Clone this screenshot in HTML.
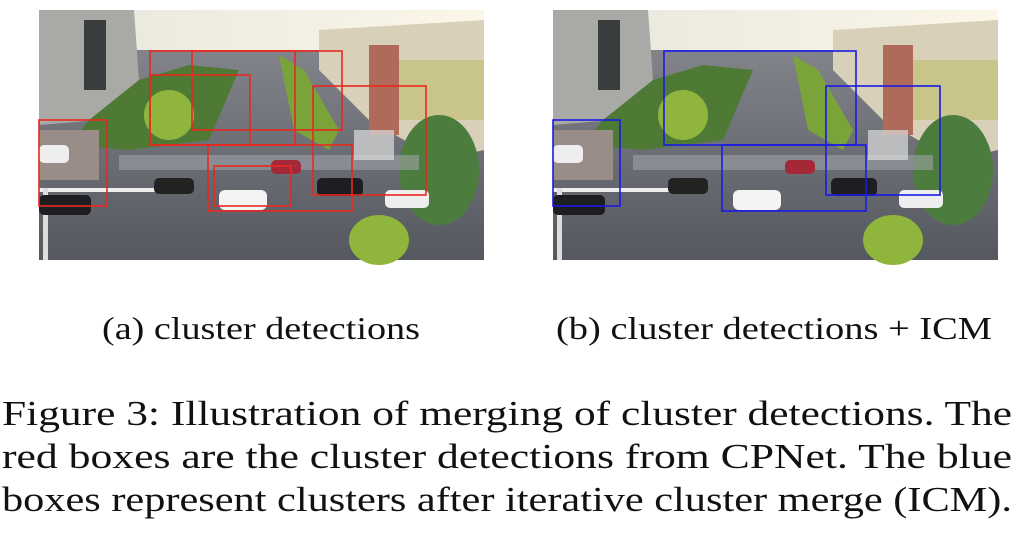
<!DOCTYPE html>
<html><head><meta charset="utf-8"><style>
html,body{margin:0;padding:0;background:#fff;width:1024px;height:550px;overflow:hidden}
svg{display:block}
text{font-family:"Liberation Serif",serif;fill:#111}
</style></head><body>
<svg width="1024" height="550" viewBox="0 0 1024 550" xmlns="http://www.w3.org/2000/svg">
<defs>
<linearGradient id="road" x1="0" y1="0" x2="0" y2="1">
<stop offset="0" stop-color="#8a8c92"/><stop offset="1" stop-color="#55585f"/></linearGradient>
<linearGradient id="sky" x1="0" y1="0" x2="1" y2="0">
<stop offset="0" stop-color="#e8e6de"/><stop offset="1" stop-color="#fbf6e8"/></linearGradient>
<g id="scene">
<rect x="0" y="0" width="445" height="250" fill="url(#road)"/>
<rect x="0" y="0" width="445" height="40" fill="url(#sky)"/>
<polygon points="0,0 95,0 100,70 60,110 0,115" fill="#a9aaa6"/>
<rect x="45" y="10" width="22" height="70" fill="#3a3d3e"/>
<polygon points="280,20 445,10 445,140 400,150 330,110 280,60" fill="#d8d0b8"/>
<rect x="360" y="50" width="85" height="60" fill="#c9c58a"/>
<rect x="330" y="35" width="30" height="90" fill="#b06a5a"/>
<polygon points="50,110 100,70 150,55 200,60 170,130 90,140 30,135" fill="#4f7a36"/>
<ellipse cx="130" cy="105" rx="25" ry="25" fill="#8fb53c"/>
<polygon points="240,45 265,60 300,120 290,140 255,120" fill="#7aa43a"/>
<ellipse cx="400" cy="160" rx="40" ry="55" fill="#4d7d3e"/>
<ellipse cx="340" cy="230" rx="30" ry="25" fill="#8fb53c"/>
<rect x="0" y="120" width="60" height="50" fill="#9a8d87"/>
<rect x="80" y="145" width="300" height="15" fill="#9fa1a6" opacity=".6"/>
<rect x="0" y="178" width="120" height="4" fill="#eee"/>
<rect x="4" y="178" width="5" height="72" fill="#ddd"/>
<rect x="180" y="180" width="48" height="20" rx="6" fill="#f4f4f4"/>
<rect x="115" y="168" width="40" height="16" rx="5" fill="#222"/>
<rect x="0" y="185" width="52" height="20" rx="5" fill="#1d1d22"/>
<rect x="278" y="168" width="46" height="18" rx="5" fill="#1d1d22"/>
<rect x="346" y="180" width="44" height="18" rx="5" fill="#eee"/>
<rect x="232" y="150" width="30" height="14" rx="5" fill="#a52838"/>
<rect x="0" y="135" width="30" height="18" rx="5" fill="#eee"/>
<rect x="315" y="120" width="40" height="30" fill="#ddd" opacity=".7"/>
</g>
</defs>
<g transform="translate(39,10)"><use href="#scene"/></g>
<g transform="translate(553,10)"><use href="#scene"/></g>
<g fill="none" stroke="#e8281e" stroke-width="1.6">
<rect x="150" y="51" width="145" height="94"/>
<rect x="192" y="51" width="150" height="79"/>
<rect x="150" y="75" width="100" height="70"/>
<rect x="313" y="86" width="113" height="109"/>
<rect x="39" y="120" width="68" height="86"/>
<rect x="208" y="145" width="144" height="66"/>
<rect x="214" y="166" width="77" height="40"/>
</g>
<g fill="none" stroke="#1a1ae6" stroke-width="1.6">
<rect x="664" y="51" width="192" height="94"/>
<rect x="826" y="86" width="114" height="109"/>
<rect x="553" y="120" width="67" height="86"/>
<rect x="722" y="145" width="144" height="66"/>
</g>
<text x="102" y="339" font-size="32" textLength="318" lengthAdjust="spacingAndGlyphs">(a) cluster detections</text>
<text x="556" y="339" font-size="32" textLength="436" lengthAdjust="spacingAndGlyphs">(b) cluster detections + ICM</text>
<text x="2" y="425" font-size="35" textLength="1010" lengthAdjust="spacingAndGlyphs">Figure 3: Illustration of merging of cluster detections. The</text>
<text x="2" y="468" font-size="35" textLength="1010" lengthAdjust="spacingAndGlyphs">red boxes are the cluster detections from CPNet. The blue</text>
<text x="2" y="511" font-size="35" textLength="1010" lengthAdjust="spacingAndGlyphs">boxes represent clusters after iterative cluster merge (ICM).</text>
</svg>
</body></html>
